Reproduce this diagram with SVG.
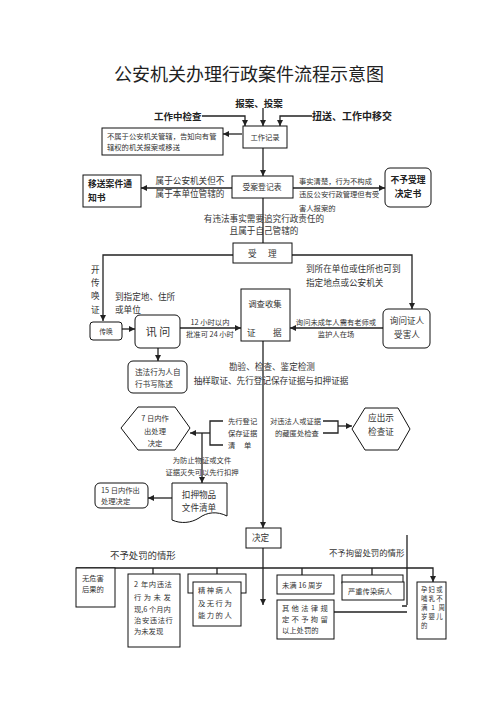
<svg xmlns="http://www.w3.org/2000/svg" width="496" height="702" viewBox="0 0 496 702">
<defs>
<marker id="ar" viewBox="0 0 10 10" refX="10" refY="5" markerWidth="7" markerHeight="6" markerUnits="userSpaceOnUse" orient="auto"><path d="M0,0 L10,5 L0,10 z" fill="#222"/></marker>
</defs>
<style>
text{font-family:"Noto Sans CJK SC","Noto Sans",sans-serif;fill:#333}
.t{font-size:18px;fill:#222}
.h{font-size:9.5px;font-weight:bold;fill:#222}
.hb{font-size:8.8px;font-weight:bold;fill:#222}
.s{font-size:8.6px}
.xs{font-size:7.3px}
.b{fill:#fff;stroke:#111;stroke-width:1}
.c{fill:none;stroke:#222;stroke-width:1.3}
.ca{fill:none;stroke:#222;stroke-width:1.3;marker-end:url(#ar)}
.m{text-anchor:middle}
</style>
<rect width="496" height="702" fill="#fff"/>
<text class="t m" x="249" y="81">公安机关办理行政案件流程示意图</text>

<g id="connectors">
<path class="ca" d="M202,116 H245 V126"/>
<path class="ca" d="M263,108 V126"/>
<path class="ca" d="M312,116 H280 V126"/>
<path class="ca" d="M242,134 H223"/>
<path class="ca" d="M263,148 V176"/>
<path class="ca" d="M232,188 H141"/>
<path class="ca" d="M293,188 H385"/>
<path class="c" d="M263,198 V243"/>
<path class="ca" d="M233,255 H103 V321"/>
<path class="ca" d="M292,255 H412 V309"/>
<path class="ca" d="M122,329 H135"/>
<path class="ca" d="M180,328 H241"/>
<path class="ca" d="M383,328 H290"/>
<path class="ca" d="M158,348 V361"/>
<path class="ca" d="M263,341 V528"/>
<path class="c" d="M223,421 H210 V445 H223"/>
<path class="ca" d="M210,433 H190"/>
<path class="ca" d="M202,433 V483"/>
<path class="c" d="M323,421 H338 V433 H323"/>
<path class="ca" d="M338,426 H352"/>
<path class="ca" d="M172,498 H148"/>
<path class="ca" d="M263,548 V605"/>
<path class="ca" d="M76,568 H433 V582"/>
<path class="c" d="M153,568 V574 M217,568 V574 M302,568 V575 M372,568 V575"/>
<path class="c" d="M407,535 V605 M402,606 H407 M334,612 H407"/>
</g>

<g id="labels">
<text class="h m" x="259" y="107">报案、投案</text>
<text class="h" x="154" y="120">工作中检查</text>
<text class="h" x="312" y="120" style="font-size:10px">扭送、工作中移交</text>
<text class="s m" x="190" y="184">属于公安机关但不</text>
<text class="s m" x="190" y="197">属于本单位管辖的</text>
<text class="xs" x="299" y="184">事实清楚，行为不构成</text>
<text class="xs" x="299" y="197">违反公安行政管理但有受</text>
<text class="xs" x="299" y="211">害人报案的</text>
<text class="s m" x="264" y="222">有违法事实需要追究行政责任的</text>
<text class="s m" x="264" y="234">且属于自己管辖的</text>
<text class="s" x="91" y="273">开</text>
<text class="s" x="91" y="286">传</text>
<text class="s" x="91" y="299">唤</text>
<text class="s" x="91" y="313">证</text>
<text class="s" x="115" y="300">到指定地、住所</text>
<text class="s" x="115" y="313">或单位</text>
<text class="s" x="306" y="272">到所在单位或住所也可到</text>
<text class="s" x="306" y="286">指定地点或公安机关</text>
<text class="xs m" x="210" y="325">12 小时以内</text>
<text class="xs m" x="210" y="337">批准可 24 小时</text>
<text class="xs m" x="336" y="325">询问未成年人需有老师或</text>
<text class="xs m" x="336" y="337">监护人在场</text>
<text class="s m" x="272" y="370">勘验、检查、鉴定检测</text>
<text class="s m" x="271" y="384">抽样取证、先行登记保存证据与扣押证据</text>
<text class="xs" x="228" y="424">先行登记</text>
<text class="xs" x="228" y="436">保存证据</text>
<text class="xs" x="228" y="448">清</text>
<text class="xs" x="244" y="448">单</text>
<text class="xs" x="270" y="424">对违法人或证据</text>
<text class="xs" x="275" y="436">的藏匿处检查</text>
<text class="xs m" x="202" y="463">为防止物证或文件</text>
<text class="xs m" x="202" y="475">证据灭失可以先行扣押</text>
<text class="s" x="110" y="559" style="font-size:9.4px">不予处罚的情形</text>
<text class="s" x="329" y="556" style="font-size:8.4px">不予拘留处罚的情形</text>
</g>

<g id="n-gzjl"><rect class="b" x="243" y="126" width="44" height="22"/><text class="xs m" x="265" y="140">工作记录</text></g>
<g id="n-bsy"><rect class="b" x="102" y="128" width="121" height="27"/><text class="xs" x="107" y="139">不属于公安机关管辖，告知向有管</text><text class="xs" x="107" y="150">辖权的机关报案或移送</text></g>
<g id="n-sadjb"><rect class="b" x="232" y="176" width="61" height="22"/><text class="xs m" x="262" y="190" style="font-size:7.8px">受案登记表</text></g>
<g id="n-ysaj"><rect class="b" x="83" y="175" width="58" height="32"/><text class="hb" x="88" y="187">移送案件通</text><text class="hb" x="88" y="201">知书</text></g>
<g id="n-byslj"><rect class="b" x="385" y="168" width="46" height="39" rx="5"/><text class="hb m" x="408" y="183">不予受理</text><text class="hb m" x="408" y="197">决定书</text></g>
<g id="n-sl"><rect class="b" x="233" y="243" width="59" height="20"/><text class="s" x="248" y="257">受</text><text class="s" x="268" y="257">理</text></g>
<g id="n-dc"><rect class="b" x="241" y="289" width="49" height="52"/><text class="s m" x="265" y="307" style="font-size:8.4px">调查收集</text><text class="s" x="247" y="336">证</text><text class="s" x="273" y="336">据</text></g>
<g id="n-ch"><rect class="b" x="90" y="322" width="32" height="18" rx="3"/><text class="xs m" x="106" y="334" style="font-size:6.8px">传唤</text></g>
<g id="n-xw"><rect class="b" x="135" y="315" width="45" height="33" rx="5"/><text class="m" x="158" y="336" style="font-size:11px">讯 问</text></g>
<g id="n-xwzr"><rect class="b" x="383" y="309" width="47" height="39" rx="5"/><text class="s m" x="407" y="324">询问证人</text><text class="s m" x="407" y="338">受害人</text></g>
<g id="n-wfxw"><rect class="b" x="128" y="361" width="59" height="32" rx="5"/><text class="xs" x="135" y="375" style="font-size:7.6px">违法行为人自</text><text class="xs" x="135" y="387" style="font-size:7.6px">行书写陈述</text></g>
<g id="n-7r"><polygon class="b" points="121,428 138,407 175,407 190,428 175,450 138,450"/><text class="xs m" x="155" y="421">7 日内作</text><text class="xs m" x="155" y="434">出处理</text><text class="xs m" x="155" y="446">决定</text></g>
<g id="n-ycs"><polygon class="b" points="352,429 365,408 398,408 410,429 398,450 365,450"/><text class="s m" x="381" y="421">应出示</text><text class="s m" x="381" y="435">检查证</text></g>
<g id="n-kywp"><path class="b" d="M172,483 H227 V516 C217,511 207,512 199,518 C191,523 181,524 172,520 Z"/><text class="s m" x="199" y="498">扣押物品</text><text class="s m" x="199" y="511">文件清单</text></g>
<g id="n-15r"><rect class="b" x="95" y="483" width="53" height="25" rx="5"/><text class="xs" x="101" y="493">15 日内作出</text><text class="xs" x="101" y="504">处理决定</text></g>
<g id="n-jd"><rect class="b" x="246" y="528" width="35" height="20"/><text class="s" x="252" y="541">决定</text></g>
<g id="n-wwh"><rect class="b" x="76" y="568" width="39" height="39"/><text class="xs" x="82" y="581">无危害</text><text class="xs" x="82" y="592">后果的</text></g>
<g id="n-2n"><rect class="b" x="128" y="574" width="52" height="73"/><text class="xs" x="134" y="587" style="letter-spacing:0.6px">2 年内违法</text><text class="xs" x="134" y="600" style="letter-spacing:2.5px">行为未发</text><text class="xs" x="134" y="612">现,6 个月内</text><text class="xs" x="134" y="623" style="letter-spacing:0.6px">治安违法行</text><text class="xs" x="134" y="634">为未发现</text></g>
<g id="n-jsbr"><rect class="b" x="188" y="574" width="58" height="19"/><rect class="b" x="193" y="582" width="48" height="44"/><text class="xs" x="198" y="593" style="letter-spacing:1.5px">精神病人</text><text class="xs" x="198" y="606" style="letter-spacing:1.5px">及无行为</text><text class="xs" x="198" y="618" style="letter-spacing:1.5px">能力的人</text></g>
<g id="n-wm16"><rect class="b" x="277" y="575" width="57" height="19"/><text class="xs" x="282" y="588">未满 16 周岁</text></g>
<g id="n-yzcr"><rect class="b" x="342" y="575" width="61" height="8"/><rect class="b" x="342" y="582" width="62" height="18"/><text class="xs" x="348" y="594">严重传染病人</text></g>
<g id="n-qtfl"><rect class="b" x="277" y="600" width="57" height="39"/><text class="xs" x="282" y="611" style="letter-spacing:2.3px">其他法律规</text><text class="xs" x="282" y="622" style="letter-spacing:2.3px">定不予拘留</text><text class="xs" x="282" y="633">以上处罚的</text></g>
<g id="n-yf"><rect class="b" x="417" y="582" width="29" height="57"/><g style="font-size:6.4px;letter-spacing:1.2px"><text x="421" y="592">孕妇或</text><text x="421" y="601">哺乳不</text><text x="421" y="610">满 1 周</text><text x="421" y="619">岁婴儿</text><text x="421" y="628">的</text></g></g>
</svg>
